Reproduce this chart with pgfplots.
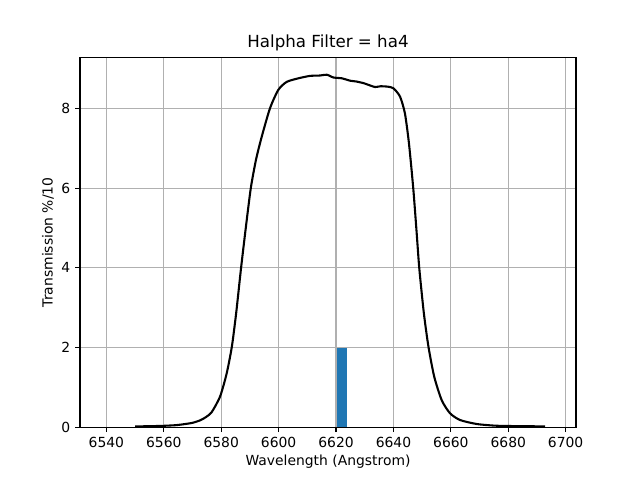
\documentclass[border=0pt]{standalone}
\usepackage{pgfplots}
\pgfplotsset{compat=1.18}
\usepackage{fontspec}
\setmainfont{DejaVu Sans}
\definecolor{mplblue}{HTML}{1F77B4}
\definecolor{gridgray}{HTML}{B0B0B0}
\begin{document}
\begin{tikzpicture}
\begin{axis}[
  scale only axis,
  width=357.12pt, height=266.11pt,
  xmin=6530.8, xmax=6703.6,
  ymin=0, ymax=9.28,
  xtick={6540,6560,...,6700},
  ytick={0,2,4,6,8},
  grid=major,
  major grid style={color=gridgray, line width=0.8pt},
  axis line style={line width=0.8pt},
  tick style={line width=0.8pt, black},
  tick align=outside,
  major tick length=3.5pt,
  xtick pos=bottom, ytick pos=left,
  /pgf/number format/assume math mode=true,
  /pgf/number format/set thousands separator={},
  tick label style={font=\fontsize{10}{12}\selectfont},
  xticklabel style={yshift=-0.5pt},
  label style={font=\fontsize{10}{12}\selectfont},
  xlabel={Wavelength (Angstrom)},
  ylabel={Transmission \%/10},
  xlabel style={yshift=2pt},
  ylabel style={yshift=-1.5pt},
  title={Halpha Filter = ha4},
  title style={font=\fontsize{12}{14}\selectfont, yshift=-5pt},
]
\addplot[ybar, bar width=3.5, bar shift=0pt, fill=mplblue, draw=none] coordinates {(6621.95,2)};
\addplot[black, line width=1.5pt, smooth, tension=0.4] coordinates {
(6550.0,0.02) (6555,0.025) (6560,0.035) (6564,0.05) (6567,0.075) (6570,0.11) (6572.6,0.17) (6574.6,0.25) (6576.7,0.38)
(6579.6,0.77) (6581.9,1.35) (6583.7,2.02) (6585.2,2.86) (6586.9,3.99) (6588.6,5.03)
(6590.3,6.00) (6592.1,6.71) (6594.1,7.29) (6597.0,8.01) (6599.9,8.47) (6602.8,8.67) (6606.9,8.76)
(6610.9,8.82) (6614.4,8.83) (6616.8,8.85) (6619.1,8.78) (6622,8.76) (6624.9,8.70) (6627,8.68) (6629.5,8.64)
(6631.5,8.59) (6633.6,8.54) (6635.5,8.56) (6638,8.55) (6640.0,8.51) (6642.3,8.30) (6644.0,7.88) (6645.4,7.13)
(6646.9,6.00) (6648.1,4.87) (6649.0,3.99) (6650.6,2.86) (6652.2,2.02) (6654.2,1.27)
(6656.8,0.68) (6659.7,0.35) (6663.2,0.18) (6669.0,0.08) (6675,0.04) (6680,0.03) (6692.8,0.02)
};
\end{axis}
\path (current axis.south west) ++(-57.6pt,-38.02pt) rectangle ([shift={(46.08pt,41.47pt)}]current axis.north east);
\end{tikzpicture}
\end{document}
